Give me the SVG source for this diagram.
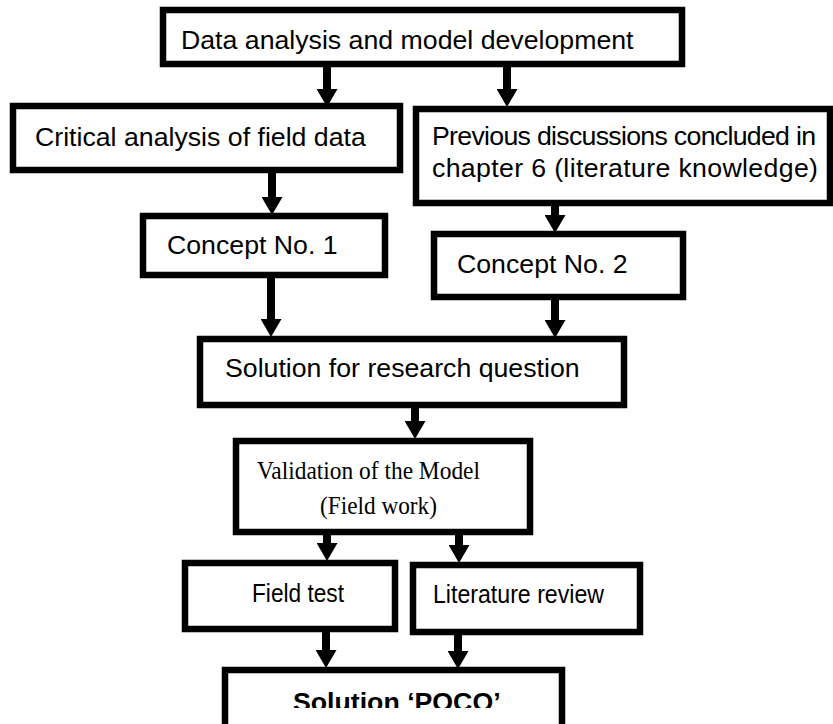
<svg xmlns="http://www.w3.org/2000/svg" width="833" height="724" viewBox="0 0 833 724">
  <style>
    .box { fill: #ffffff; stroke: #000000; stroke-width: 6.5; }
    .lbl { font-family: "Liberation Sans", Arial, sans-serif; font-size: 26.7px; fill: #000000; }
    .ser { font-family: "Liberation Serif", "Times New Roman", serif; font-size: 25px; fill: #000000; }
    .bold { font-weight: bold; }
    .conn { stroke: #000000; stroke-width: 8; fill: none; marker-end: url(#head); }
  </style>
  <defs>
    <marker id="head" markerUnits="userSpaceOnUse" viewBox="0 0 18 21" markerWidth="18" markerHeight="21" refX="0" refY="10.5" orient="auto">
      <path d="M0,0 L18,10.5 L0,21 Z" fill="#000000"/>
    </marker>
    <clipPath id="cut">
      <rect x="0" y="0" width="833" height="708"/>
    </clipPath>
  </defs>
  <rect width="833" height="724" fill="#ffffff"/>

  <g id="connectors">
    <path class="conn" d="M327,67 V89"/>
    <path class="conn" d="M507,67 V89"/>
    <path class="conn" d="M272,173 V197"/>
    <path class="conn" d="M555,205 V215"/>
    <path class="conn" d="M271,278 V319"/>
    <path class="conn" d="M555,300 V320"/>
    <path class="conn" d="M415,407 V421"/>
    <path class="conn" d="M327,534 V543"/>
    <path class="conn" d="M459,534 V545"/>
    <path class="conn" d="M326,631 V650"/>
    <path class="conn" d="M458,634 V651"/>
  </g>

  <g id="n-data-analysis">
    <rect class="box" x="163" y="10" width="519" height="54"/>
    <text class="lbl" x="181" y="49">Data analysis and model development</text>
  </g>

  <g id="n-critical-analysis">
    <rect class="box" x="13" y="106" width="387" height="64"/>
    <text class="lbl" x="35" y="146">Critical analysis of field data</text>
  </g>

  <g id="n-previous-discussions">
    <rect class="box" x="416" y="109" width="414" height="94"/>
    <text class="lbl" x="432" y="145" font-size="25" textLength="384">Previous discussions concluded in</text>
    <text class="lbl" x="432" y="177" font-size="25" textLength="386">chapter 6 (literature knowledge)</text>
  </g>

  <g id="n-concept-1">
    <rect class="box" x="143" y="216" width="242" height="59"/>
    <text class="lbl" x="167" y="254">Concept No. 1</text>
  </g>

  <g id="n-concept-2">
    <rect class="box" x="434" y="234" width="249" height="63"/>
    <text class="lbl" x="457" y="273">Concept No. 2</text>
  </g>

  <g id="n-solution-research">
    <rect class="box" x="200" y="339" width="424" height="66"/>
    <text class="lbl" x="225" y="377">Solution for research question</text>
  </g>

  <g id="n-validation">
    <rect class="box" x="236" y="441" width="294" height="91"/>
    <text class="ser" x="257" y="479" textLength="223" lengthAdjust="spacingAndGlyphs">Validation of the Model</text>
    <text class="ser" x="320" y="514" textLength="117" lengthAdjust="spacingAndGlyphs">(Field work)</text>
  </g>

  <g id="n-field-test">
    <rect class="box" x="185" y="563" width="210" height="66"/>
    <text class="lbl" x="252" y="602" font-size="24" textLength="92" lengthAdjust="spacingAndGlyphs">Field test</text>
  </g>

  <g id="n-literature-review">
    <rect class="box" x="413" y="565" width="227" height="67"/>
    <text class="lbl" x="433" y="603" font-size="24" textLength="171" lengthAdjust="spacingAndGlyphs">Literature review</text>
  </g>

  <g id="n-solution-poco">
    <rect class="box" x="225" y="670" width="337" height="80"/>
    <text class="lbl bold" x="293" y="711" font-size="26" clip-path="url(#cut)">Solution ‘POCO’</text>
  </g>
</svg>
